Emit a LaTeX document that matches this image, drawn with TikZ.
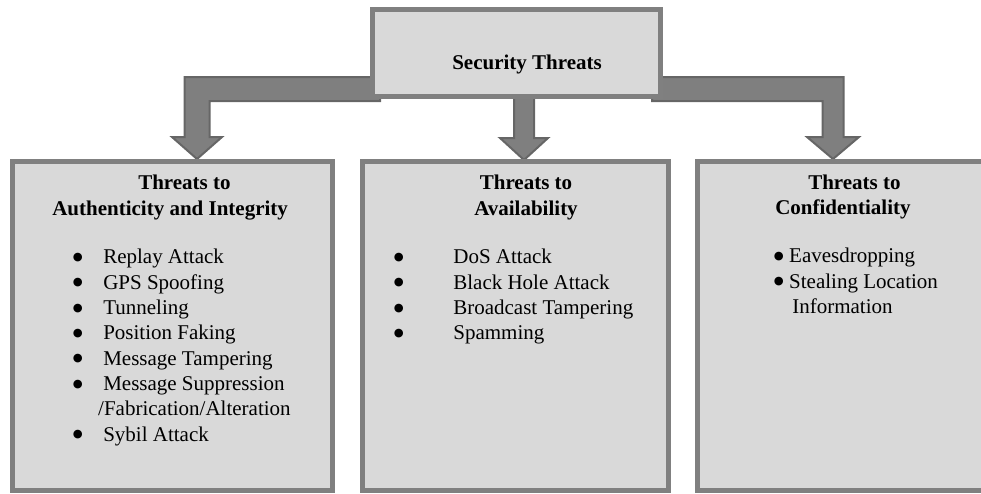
\documentclass[tikz,border=0pt]{standalone}
\usepackage{fontspec}
\setmainfont{Liberation Serif}
\newfontfamily\dotfont{DejaVu Sans}
\usepackage{xcolor}
\usetikzlibrary{positioning, backgrounds}

\definecolor{boxfill}{HTML}{D9D9D9}
\definecolor{boxedge}{HTML}{808080}
\definecolor{arrowfill}{HTML}{7F7F7F}
\definecolor{arrowedge}{HTML}{666666}

\newcommand{\bitem}[2]{\makebox[#1][l]{\raisebox{2.4pt}{\dotfont\fontsize{8.5}{8.5}\selectfont ●}}#2}

\begin{document}
\begin{tikzpicture}[
        x=0.75pt, y=-0.75pt,
        font=\fontsize{15.75}{19}\selectfont,
        box/.style={rectangle, draw=boxedge, fill=boxfill, line width=3.75pt, inner sep=0pt},
        fat/.style={fill=arrowfill, draw=arrowedge, line width=1.5pt, line join=miter},
        head/.style={font=\fontsize{15.75}{19}\selectfont\bfseries, inner sep=0pt},
        list/.style={align=left, inner sep=0pt, anchor=north west},
    ]
        \path[use as bounding box, clip] (0,0) rectangle (981,493);

        \node[box, minimum width=216pt, minimum height=65.25pt] (top) at (516.5,53) {};
        \node[head] (toptxt) at (527,64.5) {Security Threats};

        \node[box, minimum width=240pt, minimum height=246.4pt] (auth) at (172.5,325.75) {};
        \node[box, minimum width=229.5pt, minimum height=246.4pt, right=18.75pt of auth] (avail) {};
        \node[box, minimum width=221pt, minimum height=246.4pt, right=18pt of avail] (conf) {};

        \node[head, align=left, anchor=north west] (authhead) at (52,175) {\hspace*{64.5pt}Threats to\\Authenticity and Integrity};
        \node[head, align=center, anchor=north] (availhead) at (526,175) {Threats to\\Availability};
        \node[head, align=left, anchor=north west] (confhead) at (775,174.5) {\hspace*{24.75pt}Threats to\\Confidentiality};

        \node[list] (authlist) at (72.6,249) {\bitem{22.8pt}{Replay Attack}\\
            \bitem{22.8pt}{GPS Spoofing}\\
            \bitem{22.8pt}{Tunneling}\\
            \bitem{22.8pt}{Position Faking}\\
            \bitem{22.8pt}{Message Tampering}\\
            \bitem{22.8pt}{Message Suppression}\\
            \hspace*{19pt}/Fabrication/Alteration\\
            \bitem{22.8pt}{Sybil Attack}};
        \node[list] (availlist) at (393.6,249) {\bitem{44.6pt}{DoS Attack}\\
            \bitem{44.6pt}{Black Hole Attack}\\
            \bitem{44.6pt}{Broadcast Tampering}\\
            \bitem{44.6pt}{Spamming}};
        \node[list] (conflist) at (773.6,248) {\bitem{11.5pt}{Eavesdropping}\\
            \bitem{11.5pt}{Stealing Location}\\
            \hspace*{13.8pt}Information};

        % block arrows go under the boxes
        \begin{pgfonlayer}{background}
            \draw[fat] (top.west) ++(10,24) -- ++(-195.5,0) -- ++(0,60) -- ++(-12.5,0) -- ++(25,22)
                -- ++(25,-22) -- ++(-12.5,0) -- ++(0,-36) -- ++(170.5,0) -- cycle;
            \draw[fat] (top.south) ++(-2.5,-9) -- ++(0,48) -- ++(-14,0) -- ++(24,22)
                -- ++(24,-22) -- ++(-14,0) -- ++(0,-48) -- cycle;
            \draw[fat] (top.east) ++(-11,24) -- ++(191.5,0) -- ++(0,60) -- ++(15.5,0) -- ++(-26,22)
                -- ++(-26,-22) -- ++(15.5,0) -- ++(0,-36) -- ++(-170.5,0) -- cycle;
        \end{pgfonlayer}
    \end{tikzpicture}
\end{document}
